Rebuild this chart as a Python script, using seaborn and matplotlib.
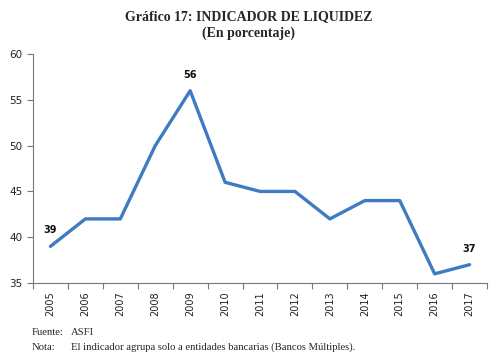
import matplotlib
matplotlib.use("Agg")
import matplotlib.pyplot as plt
import seaborn as sns
import pandas as pd
import numpy as np

years = ["2005", "2006", "2007", "2008", "2009", "2010", "2011", "2012",
         "2013", "2014", "2015", "2016", "2017"]
values = [39, 42, 42, 50, 56, 46, 45, 45, 42, 44, 44, 36, 37]
labeled_years = ["2005", "2009", "2017"]
yticks = [35, 40, 45, 50, 55, 60]

title1 = "Gráfico 17: INDICADOR DE LIQUIDEZ"
title2 = "(En porcentaje)"
note1_a, note1_b = "Fuente:", "ASFI"
note2_a, note2_b = "Nota:", "El indicador agrupa solo a entidades bancarias (Bancos Múltiples)."

sns.set_style("white")
plt.rcParams["font.family"] = ["DejaVu Sans"]

df = pd.DataFrame({"year": years, "value": values})

fig = plt.figure(figsize=(4.97, 3.63), dpi=100)
ax = fig.add_axes([0.0664, 0.2204, 0.9136, 0.6306])

sns.lineplot(data=df, x="year", y="value", ax=ax, color="#3F7BC1",
             linewidth=2.4, sort=False)

ax.set_ylim(35, 60)
ax.set_xlim(-0.5, len(years) - 0.5)
ax.set_yticks(yticks)
ax.set_xticks(range(len(years)))
ax.set_xticklabels(years, rotation=90, fontsize=7, color="#222222")
ax.set_xticks(np.arange(-0.5, len(years), 1.0), minor=True)
ax.tick_params(axis="x", which="major", length=0, pad=6)
ax.tick_params(axis="x", which="minor", length=4, width=0.8, color="#777777", direction="out", bottom=True)
ax.tick_params(axis="y", which="major", length=4, width=0.8, color="#777777", direction="out", left=True, labelsize=7.5, labelcolor="#222222")
ax.set_xlabel("")
ax.set_ylabel("")
for s in ["top", "right"]:
    ax.spines[s].set_visible(False)
for s in ["left", "bottom"]:
    ax.spines[s].set_color("#777777")
    ax.spines[s].set_linewidth(0.8)

for i, (y, v) in enumerate(zip(years, values)):
    if y in labeled_years:
        ax.annotate(str(v), (i, v), xytext=(0, 8), textcoords="offset points",
                    ha="center", va="bottom", fontsize=7, fontweight="bold", color="#111111")

serif = ["Liberation Serif", "DejaVu Serif"]
fig.text(0.5, 0.955, title1, ha="center", va="center", fontsize=10, fontweight="bold", family=serif)
fig.text(0.5, 0.908, title2, ha="center", va="center", fontsize=10, fontweight="bold", family=serif)
fig.text(0.064, 0.083, note1_a, ha="left", va="center", fontsize=7.7, family=serif)
fig.text(0.142, 0.083, note1_b, ha="left", va="center", fontsize=7.7, family=serif)
fig.text(0.064, 0.044, note2_a, ha="left", va="center", fontsize=7.7, family=serif)
fig.text(0.142, 0.044, note2_b, ha="left", va="center", fontsize=7.7, family=serif)

fig.savefig("out.png", dpi=100)
